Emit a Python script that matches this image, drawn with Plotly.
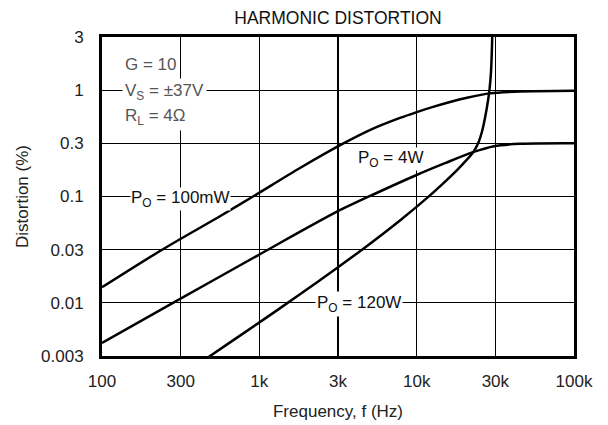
import math
import plotly.graph_objects as go

# ---- data (x: frequency in Hz on the chart's axis, y: distortion in %) ----
freq_100mW = [100, 241, 562, 912, 1813, 3401, 5201, 7834, 9910, 12710, 16290, 20890, 29240, 45400, 100000]
thd_100mW = [0.0140, 0.0316, 0.0652, 0.100, 0.1854, 0.314, 0.430, 0.548, 0.619, 0.696, 0.774, 0.848, 0.933, 0.970, 0.985]

freq_4W = [100, 279, 981, 3116, 5516, 9910, 15140, 22800, 31040, 45400, 100000]
thd_4W = [0.00419, 0.00988, 0.0280, 0.0719, 0.1073, 0.1585, 0.2057, 0.2611, 0.2973, 0.3126, 0.316]

freq_120W = [420, 486, 981, 1813, 3116, 4495, 7834, 11800, 14690, 18320, 22800, 24550, 26020, 27180,
             28410, 29040, 29690, 30040, 30210, 30300]
thd_120W = [0.00272, 0.00316, 0.00641, 0.01203, 0.02128, 0.03162, 0.0596, 0.0986, 0.1322, 0.181, 0.2589, 0.3146,
            0.4082, 0.547, 0.798, 1.013, 1.496, 2.309, 3.162, 4.62]

# axis ticks: the chart spaces 1-3-10 evenly, so "3" sits at the half-decade
x_tick_vals = [100, 316.23, 1000, 3162.3, 10000, 31623, 100000]
x_tick_text = ["100", "300", "1k", "3k", "10k", "30k", "100k"]
y_tick_vals = [0.0031623, 0.01, 0.031623, 0.1, 0.31623, 1, 3.1623]
y_tick_text = ["0.003", "0.01", "0.03", "0.1", "0.3", "1", "3"]

# curve labels / conditions (frequency, distortion)
ann_text = ["G = 10", "V<sub>S</sub> = ±37V", "R<sub>L</sub> = 4Ω",
            "P<sub>O</sub> = 100mW", "P<sub>O</sub> = 4W", "P<sub>O</sub> = 120W"]
ann_f = [134, 134, 134, 150, 4150, 2250]
ann_d = [1.76, 0.97, 0.564, 0.0953, 0.2235, 0.0098]
ann_col = ["#555", "#555", "#555", "#111", "#111", "#111"]
ann_pad = [2, 2, 2, 0, 0, 1]

FONT = "Liberation Sans, Arial, Helvetica, sans-serif"

fig = go.Figure()
for fx, fy, name in [(freq_100mW, thd_100mW, "100mW"), (freq_4W, thd_4W, "4W"), (freq_120W, thd_120W, "120W")]:
    fig.add_trace(go.Scatter(
        x=fx, y=fy, mode="lines", name=name,
        line=dict(color="black", width=2.5, shape="spline", smoothing=0.8),
        hoverinfo="skip", showlegend=False,
    ))

axis_common = dict(
    type="log", showgrid=True, gridcolor="black", gridwidth=1.3,
    showline=True, mirror=True, linecolor="black", linewidth=3,
    ticks="", tickfont=dict(family=FONT, size=17, color="#222"),
    zeroline=False, automargin=False,
)

fig.update_xaxes(
    **axis_common, range=[2, 5], tickmode="array", tickvals=x_tick_vals, ticktext=x_tick_text,
    ticklabelstandoff=8,
    title=dict(text="Frequency, f (Hz)", font=dict(family=FONT, size=17, color="#222"), standoff=15),
)
fig.update_yaxes(
    **axis_common, range=[-2.5, 0.5], tickmode="array", tickvals=y_tick_vals, ticktext=y_tick_text,
    ticklabelstandoff=12,
    title=dict(text="Distortion (%)", font=dict(family=FONT, size=17, color="#222"), standoff=9),
)

for t, f, d, c, p in zip(ann_text, ann_f, ann_d, ann_col, ann_pad):
    fig.add_annotation(
        x=math.log10(f), y=math.log10(d), xref="x", yref="y", text=t, showarrow=False,
        xanchor="left", yanchor="middle", bgcolor="white", borderpad=p,
        font=dict(family=FONT, size=17, color=c),
    )

fig.update_layout(
    width=608, height=425,
    margin=dict(l=102, r=34, t=37, b=69),
    paper_bgcolor="white", plot_bgcolor="white",
    title=dict(text="HARMONIC DISTORTION", x=0.5, xref="paper", y=1 - 18 / 425, yref="container",
               xanchor="center", yanchor="middle", font=dict(family=FONT, size=17.5, color="#111")),
    hovermode=False,
)

fig.write_html("out.html", post_script="document.body.style.margin='0px';",
               config={"displayModeBar": False, "staticPlot": True})
